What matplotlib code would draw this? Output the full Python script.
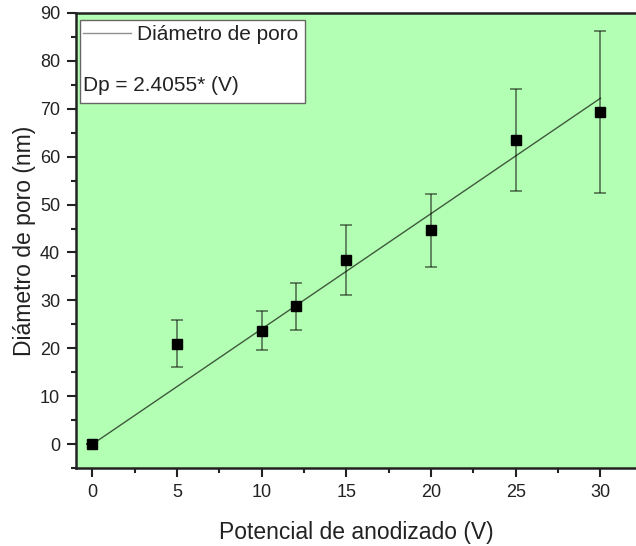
import matplotlib.pyplot as plt
from matplotlib.patches import Rectangle
from matplotlib.ticker import MultipleLocator

plt.rcParams['font.family'] = ['Liberation Sans', 'DejaVu Sans']

# data
voltage = [0, 5, 10, 12, 15, 20, 25, 30]
diameter = [0, 21.0, 23.7, 28.8, 38.5, 44.6, 63.4, 69.3]
err = [0, 4.9, 4.0, 4.9, 7.3, 7.6, 10.6, 16.8]
slope = 2.4055
fit_x = [0, 30]

fig = plt.figure(figsize=(6.36, 5.46), dpi=100)
ax = fig.add_axes([76 / 636, 1 - 468.3 / 546, 560 / 636, 455.6 / 546])
ax.set_facecolor('#b3ffb3')

ax.plot(fit_x, [slope * v for v in fit_x], color='black', alpha=0.65, lw=1.0,
        label='Diámetro de poro', zorder=2)
ax.errorbar(voltage, diameter, yerr=err, fmt='none', ecolor='black', alpha=0.55,
            elinewidth=1.2, capsize=4.5, capthick=1.2, zorder=3)
ax.plot(voltage, diameter, 's', color='black', ms=6.8, zorder=4)

ax.set_xlim(-0.96, 32.1)
ax.set_ylim(-5, 90)
ax.xaxis.set_major_locator(MultipleLocator(5))
ax.xaxis.set_minor_locator(MultipleLocator(2.5))
ax.yaxis.set_major_locator(MultipleLocator(10))
ax.yaxis.set_minor_locator(MultipleLocator(5))
ax.tick_params(which='major', direction='out', length=6.5, width=1.5, labelsize=13,
               colors='#222222', pad=5)
ax.tick_params(which='minor', direction='out', length=3.5, width=1.5, colors='#222222')
ax.spines['right'].set_visible(False)
for s in ['left', 'bottom', 'top']:
    ax.spines[s].set_linewidth(1.8)
    ax.spines[s].set_color('#222222')

ax.set_xlabel('Potencial de anodizado (V)', fontsize=16.5, color='#222222', labelpad=14)
ax.set_ylabel('Diámetro de poro (nm)', fontsize=16.5, color='#222222', labelpad=3)

# legend box
ax.add_patch(Rectangle((0.007, 0.802), 0.402, 0.182, transform=ax.transAxes,
                       facecolor='white', edgecolor='#666666', lw=1.0, zorder=5))
leg = ax.legend(loc='upper left', bbox_to_anchor=(0.0125, 0.972), frameon=False,
                fontsize=15, handlelength=2.3, handletextpad=0.3,
                borderpad=0, borderaxespad=0)
leg.get_lines()[0].set_color('#909090')
leg.get_lines()[0].set_alpha(1)
leg.set_zorder(6)
for t in leg.get_texts():
    t.set_color('#222222')
ax.text(0.013, 0.84, 'Dp = 2.4055* (V)', transform=ax.transAxes, fontsize=15,
        color='#222222', va='center', ha='left', zorder=6)

fig.savefig('out.png', dpi=100)
